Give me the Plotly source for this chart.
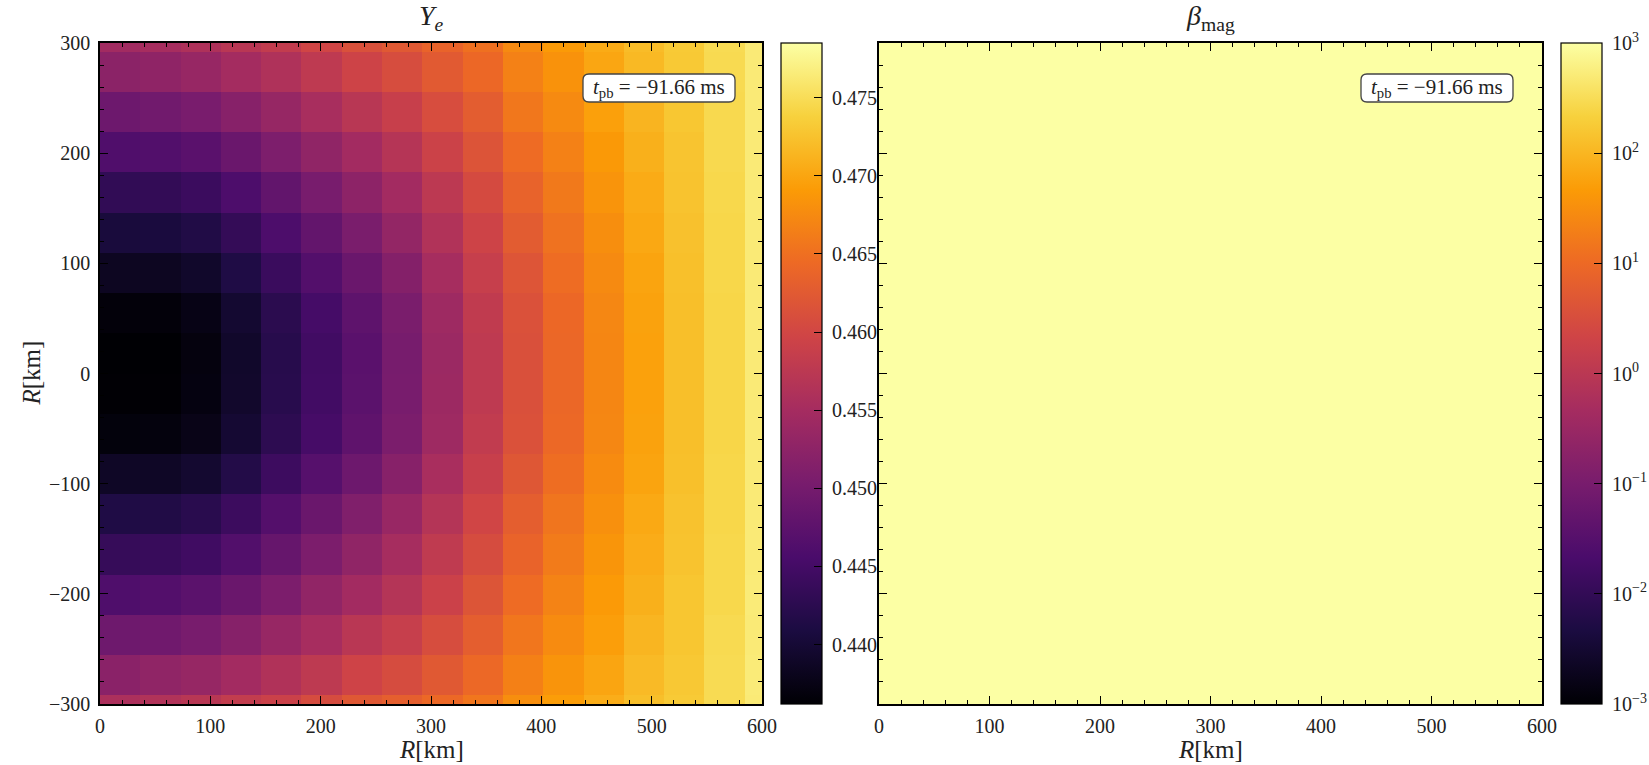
import plotly.graph_objects as go
import numpy as np

# ---------------- data ----------------
# cell edges of the (R, z) grid in km
x_edges = [0.0, 36.5, 73.0, 109.5, 146.0, 182.5, 219.0, 255.5, 292.0, 328.5,
           365.0, 401.5, 438.0, 474.5, 511.0, 547.5, 584.0, 620.5]
y_edges = [-328.5, -292.0, -255.5, -219.0, -182.5, -146.0, -109.5, -73.0, -36.5, 0.0,
           36.5, 73.0, 109.5, 146.0, 182.5, 219.0, 255.5, 292.0, 328.5]

# electron fraction Ye, rows listed from top (z = +310) to bottom (z = -310)
ye_rows_top_to_bottom = [
    [0.4547, 0.4552, 0.4560, 0.4572, 0.4582, 0.4598, 0.4613, 0.4624, 0.4637, 0.4651, 0.4675, 0.4690, 0.4705, 0.4720, 0.4732, 0.4748, 0.4764],
    [0.4523, 0.4527, 0.4535, 0.4549, 0.4561, 0.4578, 0.4595, 0.4608, 0.4625, 0.4642, 0.4667, 0.4683, 0.4701, 0.4717, 0.4731, 0.4747, 0.4764],
    [0.4492, 0.4496, 0.4504, 0.4519, 0.4534, 0.4553, 0.4571, 0.4588, 0.4609, 0.4629, 0.4657, 0.4675, 0.4695, 0.4713, 0.4729, 0.4746, 0.4764],
    [0.4462, 0.4464, 0.4472, 0.4489, 0.4508, 0.4528, 0.4548, 0.4568, 0.4593, 0.4617, 0.4646, 0.4667, 0.4689, 0.4709, 0.4727, 0.4746, 0.4764],
    [0.4431, 0.4433, 0.4441, 0.4459, 0.4481, 0.4503, 0.4525, 0.4548, 0.4576, 0.4605, 0.4636, 0.4659, 0.4684, 0.4705, 0.4726, 0.4745, 0.4764],
    [0.4405, 0.4407, 0.4415, 0.4434, 0.4459, 0.4482, 0.4505, 0.4531, 0.4563, 0.4595, 0.4627, 0.4652, 0.4679, 0.4702, 0.4724, 0.4744, 0.4764],
    [0.4384, 0.4384, 0.4392, 0.4413, 0.4440, 0.4465, 0.4489, 0.4516, 0.4551, 0.4587, 0.4619, 0.4647, 0.4675, 0.4699, 0.4723, 0.4744, 0.4764],
    [0.4367, 0.4367, 0.4375, 0.4397, 0.4425, 0.4451, 0.4476, 0.4505, 0.4543, 0.4580, 0.4614, 0.4642, 0.4672, 0.4697, 0.4722, 0.4743, 0.4764],
    [0.4362, 0.4362, 0.4370, 0.4392, 0.4421, 0.4447, 0.4472, 0.4502, 0.4540, 0.4578, 0.4612, 0.4641, 0.4671, 0.4696, 0.4722, 0.4743, 0.4764],
    [0.4363, 0.4363, 0.4371, 0.4393, 0.4422, 0.4448, 0.4473, 0.4503, 0.4541, 0.4578, 0.4612, 0.4641, 0.4671, 0.4696, 0.4722, 0.4743, 0.4764],
    [0.4368, 0.4369, 0.4377, 0.4398, 0.4427, 0.4452, 0.4477, 0.4506, 0.4543, 0.4581, 0.4614, 0.4643, 0.4672, 0.4697, 0.4722, 0.4743, 0.4764],
    [0.4388, 0.4388, 0.4396, 0.4417, 0.4443, 0.4468, 0.4492, 0.4519, 0.4554, 0.4588, 0.4621, 0.4648, 0.4676, 0.4699, 0.4723, 0.4744, 0.4764],
    [0.4413, 0.4415, 0.4423, 0.4442, 0.4466, 0.4489, 0.4511, 0.4536, 0.4567, 0.4598, 0.4630, 0.4655, 0.4681, 0.4703, 0.4725, 0.4744, 0.4764],
    [0.4436, 0.4438, 0.4446, 0.4464, 0.4485, 0.4507, 0.4528, 0.4551, 0.4579, 0.4607, 0.4637, 0.4661, 0.4685, 0.4706, 0.4726, 0.4745, 0.4764],
    [0.4461, 0.4465, 0.4473, 0.4489, 0.4507, 0.4529, 0.4548, 0.4567, 0.4592, 0.4618, 0.4646, 0.4668, 0.4690, 0.4709, 0.4728, 0.4745, 0.4765],
    [0.4493, 0.4495, 0.4503, 0.4518, 0.4535, 0.4552, 0.4572, 0.4587, 0.4608, 0.4630, 0.4656, 0.4676, 0.4694, 0.4714, 0.4728, 0.4747, 0.4764],
    [0.4522, 0.4528, 0.4534, 0.4548, 0.4562, 0.4577, 0.4596, 0.4607, 0.4624, 0.4643, 0.4666, 0.4684, 0.4700, 0.4718, 0.4730, 0.4748, 0.4765],
    [0.4558, 0.4563, 0.4571, 0.4583, 0.4591, 0.4607, 0.4622, 0.4631, 0.4643, 0.4656, 0.4679, 0.4693, 0.4707, 0.4722, 0.4732, 0.4748, 0.4764],
]

# magnetic beta: every cell is far above the colour-scale ceiling (10^3)
beta_row = [1.0e5, 1.0e5, 1.0e5, 1.0e5, 1.0e5, 1.0e5, 1.0e5, 1.0e5, 1.0e5,
            1.0e5, 1.0e5, 1.0e5, 1.0e5, 1.0e5, 1.0e5, 1.0e5, 1.0e5]
beta_rows_top_to_bottom = [beta_row] * 18

ye_ticks = [0.440, 0.445, 0.450, 0.455, 0.460, 0.465, 0.470, 0.475]
beta_tick_exponents = [-3, -2, -1, 0, 1, 2, 3]
time_label = "<i>t</i><sub>pb</sub> = \u221291.66 ms"

# ---------------- layout constants ----------------
W, H = 1649, 765
L0, L1 = 100, 762          # left panel, px
Q0, Q1 = 879, 1542         # right panel, px
T, B = 43, 704             # top / bottom of panels, px
CB1, CB2, CBW = 781, 1561, 41
YE_MIN, YE_MAX = 0.4362, 0.4785
FONT = "Liberation Serif, DejaVu Serif, serif"
TXT = "#222222"
NBSP = "\u00a0"


def fx(px):
    return px / W


def fy(py):
    return 1 - py / H


ye_z = ye_rows_top_to_bottom[::-1]
beta_z = np.log10(np.array(beta_rows_top_to_bottom[::-1]))

fig = go.Figure()

cb_common = dict(
    y=fy(T), yanchor="top", xanchor="left",
    len=(B - T) / H, lenmode="fraction", thickness=CBW, thicknessmode="pixels",
    xpad=0, ypad=0, outlinewidth=1.2, outlinecolor="black",
    ticks="inside", ticklen=8, tickwidth=1.2, tickcolor="black",
    tickfont=dict(family=FONT, size=20, color=TXT),
)

fig.add_trace(go.Heatmap(
    x=x_edges, y=y_edges, z=ye_z, xaxis="x", yaxis="y",
    colorscale="Inferno", zmin=YE_MIN, zmax=YE_MAX, hoverinfo="skip",
    colorbar=dict(x=fx(CB1), tickvals=ye_ticks,
                  ticktext=[NBSP + f"{v:.3f}" for v in ye_ticks], **cb_common),
))

fig.add_trace(go.Heatmap(
    x=x_edges, y=y_edges, z=beta_z, xaxis="x2", yaxis="y2",
    colorscale="Inferno", zmin=-3, zmax=3, hoverinfo="skip",
    colorbar=dict(x=fx(CB2), tickvals=beta_tick_exponents,
                  ticktext=[NBSP + f"10<sup>{str(e).replace('-', chr(0x2212))}</sup>"
                            for e in beta_tick_exponents], **cb_common),
))

axis_style = dict(
    showline=True, linecolor="black", linewidth=1.5, mirror="allticks",
    ticks="inside", ticklen=8, tickwidth=1.2, tickcolor="black",
    showgrid=False, zeroline=False, tick0=0, dtick=100, automargin=False,
    minor=dict(dtick=20, ticks="inside", ticklen=4, tickwidth=1, tickcolor="black", showgrid=False),
    tickfont=dict(family=FONT, size=20, color=TXT),
)

fig.update_layout(
    width=W, height=H, margin=dict(l=0, r=0, t=0, b=0, autoexpand=False),
    paper_bgcolor="white", plot_bgcolor="white", showlegend=False,
    xaxis=dict(domain=[fx(L0), fx(L1)], range=[0, 600], anchor="y",
               ticklabelstandoff=3, **axis_style),
    yaxis=dict(domain=[fy(B), fy(T)], range=[-300, 300], anchor="x",
               ticklabelstandoff=4, **axis_style),
    xaxis2=dict(domain=[fx(Q0), fx(Q1)], range=[0, 600], anchor="y2",
                ticklabelstandoff=3, **axis_style),
    yaxis2=dict(domain=[fy(B), fy(T)], range=[-300, 300], anchor="x2",
                showticklabels=False, **axis_style),
)

shapes = []
# minor ticks on the colour bars (placed from the colour-bar value scales)
for k in range(437, 479):
    if k % 5 == 0:
        continue
    v = k / 1000.0
    py = B - (v - YE_MIN) / (YE_MAX - YE_MIN) * (B - T)
    shapes.append(dict(type="line", xref="paper", yref="paper",
                       x0=fx(CB1 + CBW - 4), x1=fx(CB1 + CBW), y0=fy(py), y1=fy(py),
                       line=dict(color="black", width=1)))
for e in range(-3, 3):
    for m in range(2, 10):
        lv = e + np.log10(m)
        py = B - (lv + 3) / 6 * (B - T)
        shapes.append(dict(type="line", xref="paper", yref="paper",
                           x0=fx(CB2 + CBW - 4), x1=fx(CB2 + CBW), y0=fy(py), y1=fy(py),
                           line=dict(color="black", width=1)))


def rounded_box(x0, y0, x1, y1, r):
    """rounded rectangle path in paper coords from pixel corners"""
    pts = [
        f"M {fx(x0 + r)},{fy(y0)}",
        f"L {fx(x1 - r)},{fy(y0)}",
        f"Q {fx(x1)},{fy(y0)} {fx(x1)},{fy(y0 + r)}",
        f"L {fx(x1)},{fy(y1 - r)}",
        f"Q {fx(x1)},{fy(y1)} {fx(x1 - r)},{fy(y1)}",
        f"L {fx(x0 + r)},{fy(y1)}",
        f"Q {fx(x0)},{fy(y1)} {fx(x0)},{fy(y1 - r)}",
        f"L {fx(x0)},{fy(y0 + r)}",
        f"Q {fx(x0)},{fy(y0)} {fx(x0 + r)},{fy(y0)}",
        "Z",
    ]
    return " ".join(pts)


BOX_W, BOX_TOP, BOX_BOT = 152, 74, 102
for rx in [735, 1513]:
    shapes.append(dict(type="path", xref="paper", yref="paper",
                       path=rounded_box(rx - BOX_W, BOX_TOP, rx, BOX_BOT, 6),
                       fillcolor="white", line=dict(color="#444444", width=1.3), layer="above"))
fig.update_layout(shapes=shapes)

ann = []
# panel titles
ann.append(dict(text="<i>Y</i><sub><i>e</i></sub>", x=fx((L0 + L1) / 2), y=fy(17),
                xref="paper", yref="paper", xanchor="center", yanchor="middle",
                showarrow=False, font=dict(family=FONT, size=28, color=TXT)))
ann.append(dict(text="<i>β</i><sub>mag</sub>", x=fx((Q0 + Q1) / 2), y=fy(17),
                xref="paper", yref="paper", xanchor="center", yanchor="middle",
                showarrow=False, font=dict(family=FONT, size=28, color=TXT)))
# axis titles
for cx in [(L0 + L1) / 2, (Q0 + Q1) / 2]:
    ann.append(dict(text="<i>R</i>[km]", x=fx(cx), y=fy(749),
                    xref="paper", yref="paper", xanchor="center", yanchor="middle",
                    showarrow=False, font=dict(family=FONT, size=25, color=TXT)))
ann.append(dict(text="<i>R</i>[km]", x=fx(31), y=fy((T + B) / 2), textangle=-90,
                xref="paper", yref="paper", xanchor="center", yanchor="middle",
                showarrow=False, font=dict(family=FONT, size=25, color=TXT)))
# time stamps
for rx in [735, 1513]:
    ann.append(dict(text=time_label, x=fx(rx - BOX_W / 2), y=fy((BOX_TOP + BOX_BOT) / 2),
                    xref="paper", yref="paper", xanchor="center", yanchor="middle",
                    showarrow=False, font=dict(family=FONT, size=21, color=TXT)))
fig.update_layout(annotations=ann)

fig.write_html("out.html")
